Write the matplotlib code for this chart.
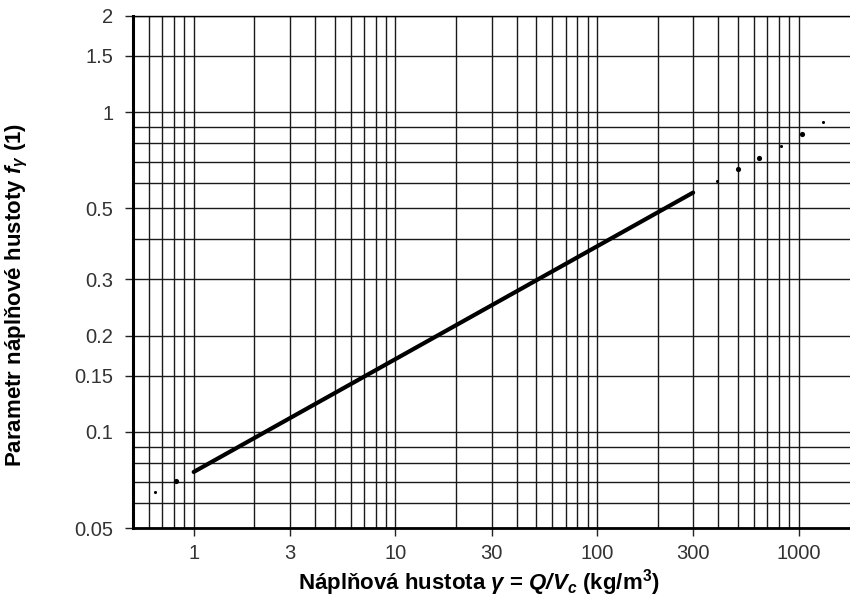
import matplotlib
matplotlib.use("Agg")
import matplotlib.pyplot as plt
import numpy as np

# --- data ---
line_x = [1, 300]
line_y = [0.075, 0.56]

dots_big_x = [0.82, 500, 640, 1040]
dots_big_y = [0.0704, 0.662, 0.72, 0.852]
dots_small_x = [0.64, 392, 817, 1327]
dots_small_y = [0.0648, 0.608, 0.785, 0.928]

x_ticks = [1, 3, 10, 30, 100, 300, 1000]
x_labels = ["1", "3", "10", "30", "100", "300", "1000"]
y_ticks = [0.05, 0.1, 0.15, 0.2, 0.3, 0.5, 1, 1.5, 2]
y_labels = ["0.05", "0.1", "0.15", "0.2", "0.3", "0.5", "1", "1.5", "2"]

x_grid = [0.6, 0.7, 0.8, 0.9] + [m * 10.0**e for e in range(0, 3) for m in range(1, 10)] + [1000]
y_grid = [0.05, 0.06, 0.07, 0.08, 0.09, 0.1, 0.15, 0.2, 0.3, 0.4, 0.5, 0.6, 0.7, 0.8, 0.9, 1, 1.5, 2]

plt.rcParams["font.family"] = ["Liberation Sans", "DejaVu Sans"]
plt.rcParams["mathtext.fontset"] = "custom"
plt.rcParams["mathtext.rm"] = "Liberation Sans:bold"
plt.rcParams["mathtext.bf"] = "Liberation Sans:bold"
plt.rcParams["mathtext.it"] = "Liberation Sans:italic:bold"
plt.rcParams["mathtext.bfit"] = "Liberation Sans:italic:bold"

fig = plt.figure(figsize=(8.5, 5.99), dpi=100)
ax = fig.add_axes([133 / 850, 1 - 528.3 / 599, 1 - 133 / 850, (528.3 - 15.7) / 599])
ax.set_xscale("log")
ax.set_yscale("log")
ax.set_xlim(0.5, 1800)
ax.set_ylim(0.05, 2)

# grid
for gx in x_grid:
    ax.axvline(gx, color="#1a1a1a", lw=1.0, zorder=1)
for gy in y_grid:
    ax.axhline(gy, color="#1a1a1a", lw=1.0, zorder=1)

ax.plot(line_x, line_y, color="black", lw=3.0, solid_capstyle="round", zorder=3)
ax.scatter(dots_big_x, dots_big_y, s=14, color="black", zorder=3, linewidths=0)
ax.scatter(dots_small_x, dots_small_y, s=5, color="black", zorder=3, linewidths=0)

ax.minorticks_off()
ax.set_xticks(x_ticks)
ax.set_xticklabels(x_labels)
ax.set_yticks(y_ticks)
ax.set_yticklabels(y_labels)
ax.tick_params(axis="both", direction="out", length=6, width=1.0, color="#222222",
               labelsize=14.5, labelcolor="#333333")
ax.tick_params(axis="x", pad=5)
ax.tick_params(axis="y", pad=8)

ax.spines["right"].set_visible(False)
ax.spines["left"].set_linewidth(2.2)
ax.spines["bottom"].set_linewidth(2.0)
ax.spines["top"].set_linewidth(1.0)
for s in ax.spines.values():
    s.set_color("black")

ax.set_xlabel(r"Náplňová hustota $\mathbfit{\gamma}$ = $\mathbfit{Q/V_c}$ (kg/m$^\mathbf{3}$)",
              fontsize=16, fontweight="bold", va="center")
ax.set_ylabel(r"Parametr náplňové hustoty $\mathbfit{f_\gamma}$ (1)",
              fontsize=16, fontweight="bold", va="center")
ax.xaxis.set_label_coords(0.483, -0.105)
ax.yaxis.set_label_coords(-0.162, 0.455)

fig.savefig("out.png", dpi=100)
